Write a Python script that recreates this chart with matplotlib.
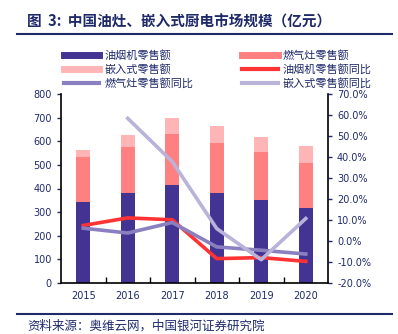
import matplotlib
matplotlib.use("Agg")
import matplotlib.pyplot as plt
import numpy as np
from matplotlib.lines import Line2D
from matplotlib.ticker import FuncFormatter, FixedLocator

plt.rcParams["font.family"] = ["Noto Sans CJK SC", "DejaVu Sans"]

years = ["2015", "2016", "2017", "2018", "2019", "2020"]
# retail sales (亿元), stacked
hood_sales = [341, 379, 415, 382, 353, 319]
stove_sales = [191, 198, 217, 209, 201, 190]
builtin_sales = [33, 50, 68, 73, 65, 72]
# year-on-year growth (%)
hood_yoy = [7.4, 11.0, 10.1, -8.4, -7.9, -9.7]
stove_yoy = [6.1, 3.8, 8.8, -2.8, -4.4, -6.2]
builtin_yoy = [np.nan, 58.4, 37.8, 5.9, -8.9, 10.7]

c_hood = "#433494"
c_stove = "#FF8080"
c_builtin = "#FFB5B5"
c_hood_yoy = "#FF3333"
c_stove_yoy = "#8A80C0"
c_builtin_yoy = "#B9B2D9"
navy = "#1F2A6B"

fig = plt.figure(figsize=(3.98, 3.34), dpi=100)
ax = fig.add_axes([61 / 398, 51 / 334, 267 / 398, 189 / 334])

x = np.arange(len(years))
w = 0.31
ax.bar(x, hood_sales, w, color=c_hood, zorder=2)
ax.bar(x, stove_sales, w, bottom=hood_sales, color=c_stove, zorder=2)
bottom2 = np.array(hood_sales) + np.array(stove_sales)
ax.bar(x, builtin_sales, w, bottom=bottom2, color=c_builtin, zorder=2)

ax.set_xlim(-0.5, 5.5)
ax.set_ylim(0, 800)
ax.set_yticks(range(0, 801, 100))
ax.set_xticks(x)
ax.set_xticklabels(years)
ax.xaxis.set_minor_locator(FixedLocator(np.arange(0.5, 5.5, 1)))
ax.tick_params(axis="x", which="major", length=0, pad=6)
ax.tick_params(axis="x", which="minor", direction="in", length=4, width=1)
ax.tick_params(axis="y", direction="out", length=3, width=1)
ax.tick_params(labelsize=7, colors=navy)
for lab in ax.get_xticklabels() + ax.get_yticklabels():
    lab.set_family("DejaVu Sans")
for s in ["left", "bottom"]:
    ax.spines[s].set_linewidth(1.2)
    ax.spines[s].set_color("black")
ax.spines["top"].set_visible(False)
ax.spines["right"].set_visible(False)

ax2 = ax.twinx()
ax2.plot(x, hood_yoy, color=c_hood_yoy, lw=2.6, zorder=3)
ax2.plot(x, stove_yoy, color=c_stove_yoy, lw=2.6, zorder=3)
ax2.plot(x, builtin_yoy, color=c_builtin_yoy, lw=2.6, zorder=3)
ax2.set_ylim(-20, 70)
ax2.set_yticks(range(-20, 71, 10))
ax2.yaxis.set_major_formatter(FuncFormatter(lambda v, p: f"{v:.1f}%"))
ax2.tick_params(axis="y", direction="out", length=3, width=1, labelsize=7, colors=navy)
for lab in ax2.get_yticklabels():
    lab.set_family("DejaVu Sans")
ax2.spines["right"].set_linewidth(1.2)
for s in ["top", "left", "bottom"]:
    ax2.spines[s].set_visible(False)

# legend (column-wise order for ncol=2)
handles = [
    Line2D([], [], color=c_hood, lw=5),
    Line2D([], [], color=c_builtin, lw=5),
    Line2D([], [], color=c_stove_yoy, lw=3),
    Line2D([], [], color=c_stove, lw=5),
    Line2D([], [], color=c_hood_yoy, lw=3),
    Line2D([], [], color=c_builtin_yoy, lw=3),
]
labels = ["油烟机零售额", "嵌入式零售额", "燃气灶零售额同比",
          "燃气灶零售额", "油烟机零售额同比", "嵌入式零售额同比"]
fig.legend(handles, labels, ncol=2, frameon=False, loc="upper left",
           bbox_to_anchor=(58 / 398, 1 - 45 / 334), fontsize=8,
           labelcolor=navy, handlelength=3.2, handletextpad=0.45,
           columnspacing=4.4, labelspacing=0.25, borderpad=0)

# title and source
fig.text(27 / 398, 1 - 22 / 334, "图  3:  中国油灶、嵌入式厨电市场规模（亿元）",
         fontsize=10.5, fontweight="bold", color=navy, va="center")
fig.add_artist(Line2D([17 / 398, 392 / 398], [1 - 34 / 334, 1 - 34 / 334],
                      color=navy, lw=1.5))
fig.add_artist(Line2D([17 / 398, 392 / 398], [1 - 314 / 334, 1 - 314 / 334],
                      color=navy, lw=1.5))
fig.text(27 / 398, 1 - 326 / 334, "资料来源：奥维云网，中国银河证券研究院",
         fontsize=9, color=navy, va="center", style="italic")

fig.savefig("out.png", dpi=100)
